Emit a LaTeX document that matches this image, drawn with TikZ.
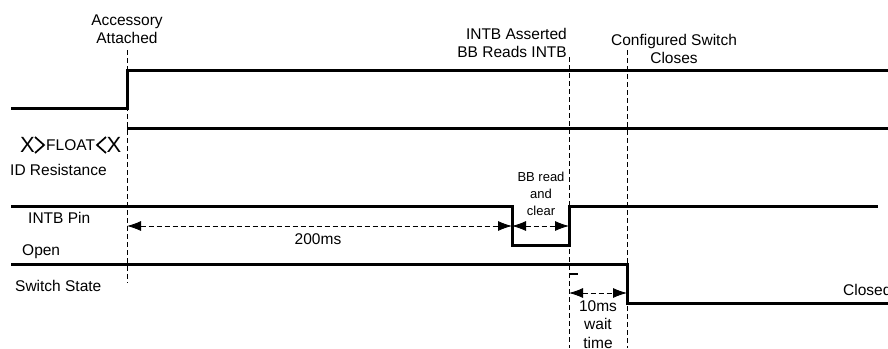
\documentclass[tikz,border=0pt]{standalone}
\usepackage{fontspec}
\setmainfont{Liberation Sans}
\usetikzlibrary{arrows.meta}
\tikzset{
  wave/.style={line width=3pt,line cap=butt,line join=miter},
  marker/.style={line width=0.8pt,dash pattern=on 5pt off 3pt},
  span/.style={line width=0.8pt,dash pattern=on 5pt off 3pt,{Latex[length=14pt,width=10pt]}-{Latex[length=14pt,width=10pt]}},
  chev/.style={line width=1.7pt,line join=miter},
  lbl/.style={inner sep=0pt,font=\fontsize{15.5}{18}\selectfont},
  small/.style={inner sep=0pt,font=\fontsize{13}{17}\selectfont}
}
\begin{document}
\begin{tikzpicture}[x=1pt,y=-1pt]
  \useasboundingbox (0,0) rectangle (888,348);
  % event times
  \coordinate (acc) at (127,0);
  \coordinate (rd) at (512,0);
  \coordinate (clr) at (569,0);
  \coordinate (sw) at (627,0);
  % marker lines
  \draw[marker] (acc |- 0,50) -- (acc |- 0,283);
  \draw[marker] (clr |- 0,57) -- (clr |- 0,348);
  \draw[marker] (sw |- 0,50) -- (sw |- 0,348);
  % event labels
  \node[lbl,align=center] (accLbl) at (127,29) {Accessory\\Attached};
  \node[lbl,align=right,anchor=east] (intbLbl) at (567,42.5) {INTB Asserted\\BB Reads INTB};
  \node[lbl,align=center] (swLbl) at (674,48.5) {Configured Switch\\Closes};
  % accessory signal
  \draw[wave] (11,108) -- (acc |- 0,108) -- (acc |- 0,70) -- (888,70);
  % ID resistance
  \draw[wave] (acc |- 0,128) -- (888,128);
  \node[inner sep=0pt,font=\fontsize{22}{22}\selectfont] (xa) at (27.5,145) {X};
  \draw[chev] (35,137) -- (44,145) -- (35,153);
  \node[lbl,anchor=west] (flt) at (46,145) {FLOAT};
  \draw[chev] (106,137) -- (97,145) -- (106,153);
  \node[inner sep=0pt,font=\fontsize{22}{22}\selectfont] (xb) at (114,145) {X};
  \node[lbl,anchor=west] (idLbl) at (10,170) {ID Resistance};
  % INTB pin
  \draw[wave] (11,206) -- (rd |- 0,206) -- (rd |- 0,245) -- (clr |- 0,245) -- (clr |- 0,206) -- (878,206);
  \node[lbl,anchor=west] (intbPin) at (28,218) {INTB Pin};
  \draw[span] (acc |- 0,226) -- (rd |- 0,226);
  \node[lbl] (t200) at (318,239) {200ms};
  \draw[span] (rd |- 0,226) -- (clr |- 0,226);
  \node[small,align=center] (bbLbl) at (541,194) {BB read\\and\\clear};
  % switch state
  \node[lbl,anchor=west] (openLbl) at (22,252) {Open};
  \draw[wave] (11,264) -- (sw |- 0,264) -- (sw |- 0,303) -- (888,303);
  \node[lbl,anchor=west] (swState) at (15,286) {Switch State};
  \node[lbl,anchor=west] (closedLbl) at (843,290) {Closed};
  \draw[line width=2pt] (clr |- 0,274) -- (578,274);
  \draw[span] (clr |- 0,293) -- (sw |- 0,293);
  \node[lbl,align=center,font=\fontsize{15.5}{18.5}\selectfont] (waitLbl) at (598,324.5) {10ms\\wait\\time};
\end{tikzpicture}
\end{document}
